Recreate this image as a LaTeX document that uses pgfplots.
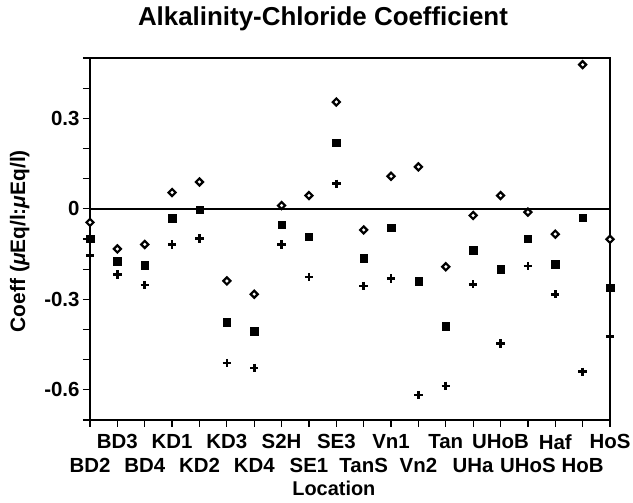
\documentclass[border=0pt]{standalone}
\usepackage{pgfplots}
\pgfplotsset{compat=1.18}
\usepackage{pgfplotstable}
\usepackage{fontspec}
\setmainfont{Liberation Sans}
\pgfplotstableread{
x d s p
0 -0.045 -0.100 -0.155
1 -0.133 -0.173 -0.218
2 -0.118 -0.187 -0.253
3 0.054 -0.031 -0.118
4 0.089 -0.003 -0.098
5 -0.239 -0.376 -0.511
6 -0.283 -0.406 -0.528
7 0.011 -0.053 -0.118
8 0.044 -0.092 -0.226
9 0.354 0.219 0.083
10 -0.070 -0.164 -0.256
11 0.108 -0.062 -0.231
12 0.139 -0.240 -0.617
13 -0.192 -0.389 -0.587
14 -0.022 -0.137 -0.250
15 0.044 -0.200 -0.446
16 -0.011 -0.100 -0.190
17 -0.084 -0.183 -0.283
18 0.478 -0.029 -0.540
19 -0.101 -0.262 -0.423
}\datatab
\begin{document}
\begin{tikzpicture}[x=1bp,y=1bp]
\useasboundingbox (-90,-83) rectangle (543,420);
\begin{axis}[
  at={(0,0)}, anchor=south west,
  scale only axis, width=520bp, height=362bp,
  xmin=0, xmax=19, ymin=-0.7, ymax=0.5,
  axis line style={line width=1.7bp},
  tick style={line width=1.3bp, black},
  tick align=outside,
  major tick length=7bp, minor tick length=7bp,
  xtick pos=bottom, ytick pos=left,
  xtick={1,3,5,7,9,11,13,15,17,19},
  xticklabels={BD3,KD1,KD3,S2H,SE3,Vn1,Tan,UHoB,Haf,HoS},
  xticklabel style={yshift=-4bp},
  extra x ticks={0,2,4,6,8,10,12,14,16,18},
  extra x tick labels={BD2,BD4,KD2,KD4,SE1,TanS,Vn2,UHa,UHoS,HoB},
  extra x tick style={xticklabel style={yshift=-24bp}},
  ytick={-0.6,-0.3,0,0.3},
  yticklabels={-0.6,-0.3,0,0.3},
  minor ytick={-0.7,-0.5,-0.4,-0.2,-0.1,0.1,0.2,0.4,0.5},
  ticklabel style={font=\fontsize{20.5}{24}\selectfont\bfseries},
  /pgf/number format/assume math mode=true,
  title={Alkalinity-Chloride Coefficient},
  title style={at={(axis description cs:0.448,1.072)}, anchor=base, font=\fontsize{26}{30}\selectfont\bfseries},
  xlabel={Location},
  xlabel style={at={(axis description cs:0.469,-0.188)}, anchor=center, font=\fontsize{20}{24}\selectfont\bfseries},
  ylabel={Coeff (\textit{μ}Eq/l:\textit{μ}Eq/l)},
  ylabel style={at={(axis description cs:-0.135,0.494)}, anchor=center, font=\fontsize{21}{24}\selectfont\bfseries},
  clip=false,
]
\addplot[black, line width=1.9bp] coordinates {(0,0) (19,0)};
\addplot[only marks, line width=2.2bp, mark=square*, mark size=2.5bp, mark options={rotate=45, draw=black, fill=white, line width=2.2bp}] table[x=x,y=d]{\datatab};
\addplot[only marks, mark=square*, mark size=3.7bp, mark options={draw=black, fill=black}] table[x=x,y=s]{\datatab};
\addplot[only marks, line width=2.6bp, mark=+, mark size=4.2bp, mark options={draw=black, line width=2.6bp}] table[x=x,y=p]{\datatab};
\end{axis}
\end{tikzpicture}
\end{document}
